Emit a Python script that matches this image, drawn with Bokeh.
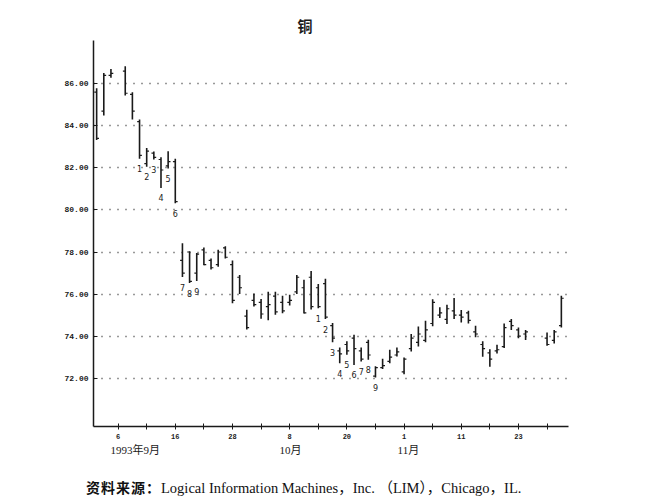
from bokeh.plotting import figure
from bokeh.models import FixedTicker, ColumnDataSource, LinearAxis, Div
from bokeh.layouts import column
from bokeh.embed import file_html
from bokeh.resources import INLINE
from bokeh.core.properties import value

# trading-day index (0 = 1 Sep 1993); missing slots are holidays
days = [0, 1, 2, 4, 5, 6, 7, 8, 9, 10, 11, 12, 13, 14, 15, 16, 17, 18, 19, 20,
        21, 22, 23, 24, 25, 26, 27, 28, 29, 30, 31, 32, 33, 34, 35, 36, 37, 38, 39, 40,
        41, 42, 43, 44, 45, 46, 47, 48, 49, 50, 51, 52, 53, 54, 55, 56, 57, 58, 59, 60,
        63, 64, 65]
highs = [85.79, 86.51, 86.71, 86.83, 85.60, 84.30, 82.95, 82.78, 82.51, 82.79, 82.43, 78.42, 78.03, 77.95, 78.22, 77.69, 78.11, 78.27, 77.59, 76.91,
         75.25, 76.03, 75.77, 76.11, 76.11, 75.92, 75.97, 76.91, 76.68, 77.10, 76.48, 76.73, 74.62, 73.46, 73.75, 74.06, 73.46, 73.83, 72.56, 72.92,
         73.35, 73.46, 72.98, 74.10, 74.46, 74.73, 75.75, 75.37, 75.49, 75.81, 75.24, 75.21, 74.49, 73.75, 73.38, 73.59, 74.60, 74.81, 74.41, 74.29,
         74.17, 74.29, 75.92]
lows = [83.33, 84.49, 86.29, 85.44, 84.30, 82.43, 82.06, 82.40, 81.05, 81.97, 80.32, 76.81, 76.52, 76.62, 77.37, 77.17, 77.30, 77.69, 75.56, 76.00,
        74.31, 75.41, 74.83, 74.75, 75.02, 75.09, 75.45, 76.00, 75.07, 75.27, 75.33, 74.81, 73.71, 72.71, 73.11, 72.63, 72.79, 72.87, 72.03, 72.44,
        72.71, 73.03, 72.19, 73.27, 73.51, 73.71, 74.47, 74.86, 74.57, 74.81, 74.65, 74.60, 73.94, 73.02, 72.54, 73.17, 73.43, 74.29, 73.90, 73.81,
        73.54, 73.65, 74.41]
opens = [85.60, 84.70, 86.40, 86.60, 85.50, 84.20, 82.20, 82.70, 82.40, 82.10, 82.30, 77.60, 78.00, 77.00, 78.10, 77.60, 77.40, 78.20, 77.40, 76.80,
         74.95, 75.70, 75.60, 75.40, 75.90, 75.60, 75.60, 76.10, 76.30, 76.80, 76.30, 76.50, 74.50, 73.30, 73.60, 73.90, 73.30, 73.70, 72.10, 72.50,
         72.80, 73.10, 72.30, 73.40, 73.70, 73.80, 74.60, 75.00, 74.80, 75.20, 75.00, 75.10, 74.20, 73.60, 73.20, 73.30, 73.50, 74.70, 74.30, 74.10,
         73.90, 73.80, 74.50]
closes = [83.40, 86.40, 86.50, 85.55, 84.70, 82.60, 82.80, 82.50, 81.90, 82.30, 80.40, 77.00, 76.60, 77.90, 77.40, 77.25, 78.00, 77.75, 75.70, 76.30,
          74.40, 75.50, 75.05, 75.50, 75.15, 75.20, 75.70, 76.80, 75.10, 75.40, 75.40, 74.90, 73.90, 73.15, 73.30, 73.40, 72.90, 73.10, 72.50, 72.60,
          73.00, 73.25, 72.90, 73.90, 74.10, 74.30, 75.60, 75.10, 75.30, 75.00, 74.90, 74.75, 74.10, 73.40, 72.90, 73.35, 74.40, 74.50, 74.00, 74.20,
          73.60, 74.20, 75.80]

# setup counts written under the bars
count_days = [6, 7, 8, 9, 10, 11, 12, 13, 14, 31, 32, 33, 34, 35, 36, 37, 38, 39]
count_text = ["1", "2", "3", "4", "5", "6", "7", "8", "9",
              "1", "2", "3", "4", "5", "6", "7", "8", "9"]

# axes
y_ticks = [72, 74, 76, 78, 80, 82, 84, 86]
y_tick_labels = ["72.00", "74.00", "76.00", "78.00", "80.00", "82.00", "84.00", "86.00"]
x_ticks = [3, 7, 11, 15, 19, 23, 27, 31, 35, 39, 43, 47, 51, 55, 59, 63]
x_tick_labels = {3: "6", 11: "16", 19: "28", 27: "8", 35: "20", 43: "1", 51: "11", 59: "23"}
month_labels = ["1993年9月", "10月", "11月"]
month_pos = [5.4, 27.1, 43.6]

title_text = "铜"
source_head = "资料来源："
source_text = "Logical Information Machines，Inc. （LIM），Chicago，IL."

ink = "#1a1a1a"
p = figure(width=645, height=462, output_backend="svg", toolbar_location=None,
           x_range=(-0.44, 66.0), y_range=(69.7, 88.06),
           min_border_left=93, min_border_right=77, min_border_top=40, min_border_bottom=36,
           margin=(0, 0, 0, 0))
p.outline_line_color = None

p.title.text = title_text
p.title.align = "left"
p.title.offset = 204
p.title.standoff = 9
p.title.text_font = "Noto Sans CJK SC"
p.title.text_font_style = "bold"
p.title.text_font_size = "15px"
p.title.text_color = ink

lowd = dict(zip(days, lows))
src = ColumnDataSource(dict(x=days, h=highs, l=lows, o=opens, c=closes,
                            xl=[d - 0.33 for d in days], xr=[d + 0.33 for d in days]))
p.segment(x0="x", y0="l", x1="x", y1="h", source=src, line_color=ink, line_width=1.6)
p.segment(x0="xl", y0="o", x1="x", y1="o", source=src, line_color=ink, line_width=1.2)
p.segment(x0="x", y0="c", x1="xr", y1="c", source=src, line_color=ink, line_width=1.2)

p.text(x=count_days, y=[lowd[d] for d in count_days], text=count_text,
       y_offset=10, text_align="center", text_baseline="middle",
       text_font=value("DejaVu Sans"), text_font_size="8px", text_color=ink)

# grid
p.xgrid.visible = False
p.ygrid.ticker = FixedTicker(ticks=y_ticks)
p.ygrid.grid_line_color = "#333333"
p.ygrid.grid_line_dash = "1 7"
p.ygrid.grid_line_width = 1.3

# y axis
p.yaxis.ticker = FixedTicker(ticks=y_ticks)
p.yaxis.major_label_overrides = dict(zip(y_ticks, y_tick_labels))
p.yaxis.minor_tick_line_color = None
p.yaxis.major_tick_in = 4
p.yaxis.major_tick_out = 0
p.yaxis.axis_line_width = 1.5
p.yaxis.axis_line_color = ink
p.yaxis.major_tick_line_color = ink
p.yaxis.major_label_text_font = "Liberation Mono"
p.yaxis.major_label_text_font_style = "bold"
p.yaxis.major_label_text_font_size = "8px"
p.yaxis.major_label_text_color = ink
p.yaxis.major_label_standoff = 5

# x axis (day numbers)
p.xaxis.ticker = FixedTicker(ticks=x_ticks)
p.xaxis.major_label_overrides = {t: x_tick_labels.get(t, "") for t in x_ticks}
p.xaxis.minor_tick_line_color = None
p.xaxis.major_tick_in = 3
p.xaxis.major_tick_out = 3
p.xaxis.axis_line_width = 1.5
p.xaxis.axis_line_color = ink
p.xaxis.major_tick_line_color = ink
p.xaxis.major_label_text_font = "Liberation Mono"
p.xaxis.major_label_text_font_style = "bold"
p.xaxis.major_label_text_font_size = "7px"
p.xaxis.major_label_text_color = ink
p.xaxis.major_label_standoff = 4

# second row: months
month_axis = LinearAxis(ticker=FixedTicker(ticks=month_pos),
                        major_label_overrides=dict(zip(month_pos, month_labels)))
month_axis.axis_line_color = None
month_axis.major_tick_line_color = None
month_axis.minor_tick_line_color = None
month_axis.major_tick_in = 0
month_axis.major_tick_out = 0
month_axis.major_label_standoff = 2
month_axis.major_label_text_font = "'Liberation Serif', 'Noto Sans CJK SC'"
month_axis.major_label_text_font_size = "11px"
month_axis.major_label_text_color = ink
p.add_layout(month_axis, "below")

caption = Div(
    text=('<span style="font-family:\'Noto Sans CJK SC\';font-weight:bold;font-size:14px;letter-spacing:1px;">'
          + source_head + '</span><span style="font-family:\'Liberation Serif\',\'Noto Sans CJK SC\';font-size:14.5px;">'
          + source_text + '</span>'),
    width=645, height=40, margin=(0, 0, 0, 0),
    styles={"padding-left": "86px", "padding-top": "15px", "line-height": "20px",
            "color": "#111111", "white-space": "nowrap"})

layout = column(p, caption, margin=(0, 0, 0, 0), spacing=0)
open("out.html", "w").write(file_html(layout, INLINE))
